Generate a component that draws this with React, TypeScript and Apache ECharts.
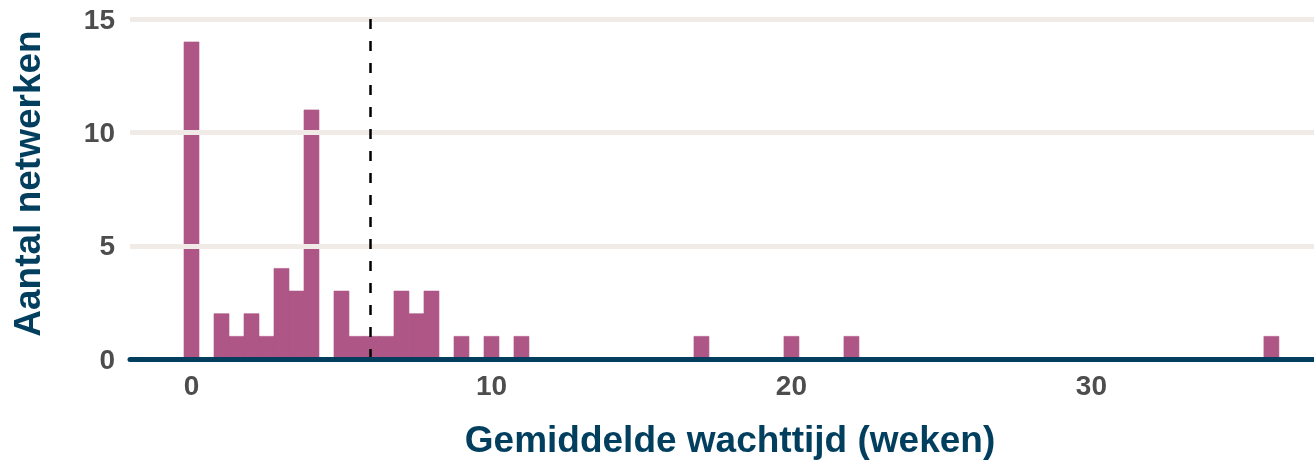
import React, { useEffect, useRef } from "react";
import * as echarts from "echarts";

const weeks = [0, 1, 1.5, 2, 2.5, 3, 3.5, 4, 5, 5.5, 6, 6.5, 7, 7.5, 8, 9, 10, 11, 17, 20, 22, 36];
const counts = [14, 2, 1, 2, 1, 4, 3, 11, 3, 1, 1, 1, 3, 2, 3, 1, 1, 1, 1, 1, 1, 1];
const binWidth = 0.5;
const meanWait = 5.97;
const xTicks = [0, 10, 20, 30];
const yTicks = [0, 5, 10, 15];
const xTitle = "Gemiddelde wachttijd (weken)";
const yTitle = "Aantal netwerken";

const FONT = "'Liberation Sans', Arial, sans-serif";

export default function App() {
  const ref = useRef<HTMLDivElement>(null);
  useEffect(() => {
    if (!ref.current) return;
    const chart = echarts.init(ref.current, null, { renderer: "svg" });
    const data = weeks.map((w, i) => [w, counts[i]]);
    chart.setOption({
      animation: false,
      grid: { left: 130, right: 0, top: 8, bottom: 105, containLabel: false, outerBoundsMode: "none" },
      xAxis: {
        type: "value",
        min: -2.05,
        max: 37.42,
        z: 10,
        name: xTitle,
        nameLocation: "middle",
        nameGap: 62,
        nameTextStyle: {
          fontFamily: FONT,
          fontWeight: "bold",
          fontSize: 37,
          color: "#023e5e",
          padding: [0, 0, 0, 16],
        },
        axisLine: { show: true, onZero: false, lineStyle: { color: "#023e5e", width: 5 } },
        axisTick: { show: false },
        splitLine: { show: false },
        axisLabel: {
          customValues: xTicks,
          fontFamily: FONT,
          fontWeight: "bold",
          fontSize: 28,
          color: "#4d4d4d",
          margin: 12,
        },
      },
      yAxis: {
        type: "value",
        min: 0,
        max: 15.5,
        name: yTitle,
        nameLocation: "middle",
        nameGap: 84,
        nameTextStyle: { fontFamily: FONT, fontWeight: "bold", fontSize: 37, color: "#023e5e" },
        axisLine: { show: false },
        axisTick: { show: false },
        splitLine: { show: false },
        axisLabel: {
          customValues: yTicks,
          fontFamily: FONT,
          fontWeight: "bold",
          fontSize: 28,
          color: "#4d4d4d",
          margin: 15,
        },
      },
      series: [
        {
          type: "line",
          data: [],
          z: 0,
          silent: true,
          markLine: {
            silent: true,
            symbol: ["none", "none"],
            label: { show: false },
            lineStyle: { color: "#f0ebe6", width: 5, type: "solid" },
            data: yTicks.filter((v) => v > 0).map((v) => ({ yAxis: v })),
          },
        },
        {
          type: "line",
          data: [],
          z: 1,
          silent: true,
          markLine: {
            silent: true,
            symbol: ["none", "none"],
            label: { show: false },
            lineStyle: { color: "#000000", width: 2.5, type: [10, 12] },
            data: [{ xAxis: meanWait }],
          },
        },
        {
          type: "custom",
          z: 2,
          data,
          renderItem: (params: any, api: any) => {
            const x = api.value(0);
            const y = api.value(1);
            const p0 = api.coord([x - binWidth / 2, y]);
            const p1 = api.coord([x + binWidth / 2, 0]);
            return {
              type: "rect",
              shape: { x: p0[0], y: p0[1], width: p1[0] - p0[0], height: p1[1] - p0[1] },
              style: { fill: "#ae5787", stroke: "#ae5787", lineWidth: 0.6 },
            };
          },
        },
      ],
    });
    return () => chart.dispose();
  }, []);
  return <div ref={ref} style={{ position: "fixed", left: 0, top: 0, width: 1314, height: 464 }} />;
}
